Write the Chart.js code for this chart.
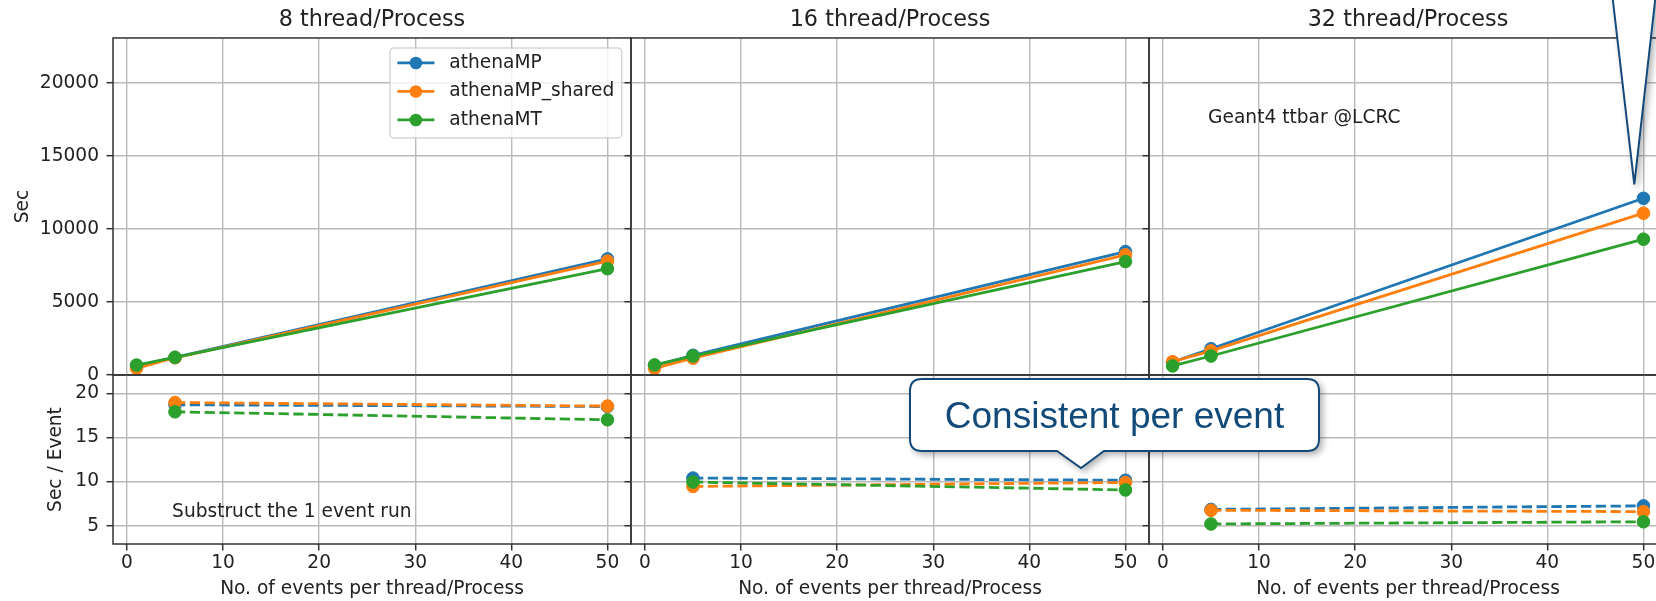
<!DOCTYPE html>
<html>
<head>
<meta charset="utf-8">
<script src="https://cdn.jsdelivr.net/npm/chart.js@4.4.1/dist/chart.umd.min.js"></script>
<style>
  body { margin: 0; background: #fff; }
  #wrap { position: relative; width: 1656px; height: 601px; overflow: hidden; background: #fff; }
  #wrap canvas { position: absolute; }
  #callouts { position: absolute; left: 0; top: 0; z-index: 5; }
</style>
</head>
<body>
<div id="wrap">
  <svg id="callouts" width="1656" height="601">
    <defs>
      <filter id="shadow" x="-10%" y="-20%" width="130%" height="160%">
        <feDropShadow dx="3" dy="3" stdDeviation="3" flood-color="#000" flood-opacity="0.3"/>
      </filter>
    </defs>
    <path d="M922,379 H1307 Q1319,379 1319,391 V439 Q1319,451 1307,451 H1104 L1081,468 L1057,451 H922 Q910,451 910,439 V391 Q910,379 922,379 Z"
          fill="#fff" stroke="#124a79" stroke-width="2" filter="url(#shadow)"/>
    <text x="1114.5" y="428" text-anchor="middle" font-family="'Liberation Sans', Arial, sans-serif" font-size="37" fill="#124a79">Consistent per event</text>
    <path d="M1612.5,-3 L1634.3,184.3 L1655.5,-3" fill="#fff" stroke="#124a79" stroke-width="2" filter="url(#shadow)"/>
  </svg>
</div>
<script>
"use strict"

// x values: number of events per thread/process
const eventCounts = [1, 5, 50]
const perEventCounts = [5, 50]        // the 1 event run is subtracted
const xTicks = [0, 10, 20, 30, 40, 50]
const secTicks = [0, 5000, 10000, 15000, 20000]
const perEventTicks = [5, 10, 15, 20]

const panelTitles = ['8 thread/Process', '16 thread/Process', '32 thread/Process']
const seriesNames = ['athenaMP', 'athenaMP_shared', 'athenaMT']

// total wall time [Sec]
const mp8 = [620, 1200, 7950]
const shared8 = [460, 1180, 7800]
const mt8 = [680, 1210, 7280]
const mp16 = [650, 1350, 8450]
const shared16 = [460, 1150, 8230]
const mt16 = [690, 1300, 7770]
const mp32 = [880, 1800, 12100]
const shared32 = [910, 1650, 11080]
const mt32 = [620, 1300, 9300]

// Sec / Event
const mpEv8 = [18.7, 18.5]
const sharedEv8 = [18.95, 18.55]
const mtEv8 = [17.9, 17.0]
const mpEv16 = [10.4, 10.15]
const sharedEv16 = [9.45, 9.9]
const mtEv16 = [9.95, 9.05]
const mpEv32 = [6.85, 7.25]
const sharedEv32 = [6.75, 6.6]
const mtEv32 = [5.2, 5.45]

const secData = [[mp8, shared8, mt8], [mp16, shared16, mt16], [mp32, shared32, mt32]]
const perEventData = [[mpEv8, sharedEv8, mtEv8], [mpEv16, sharedEv16, mtEv16], [mpEv32, sharedEv32, mtEv32]]

const colors = ['#1f77b4', '#ff7f0e', '#2ca02c']
const FAMILY = "'DejaVu Sans', sans-serif"
const TXT = '#222'
const GRID = '#bababa'
const MARKER_R = 6.3

// page geometry (px)
const PLOT_W = 518
const MID_Y = 375
const BOT_Y = 544
const PAGE_H = 601
const plotLeft = [113, 631, 1149]

// box round each axes, like matplotlib spines
const framePlugin = {
    id: 'frame',
    afterDatasetsDraw(chart){
        const {ctx, chartArea: a} = chart
        ctx.save()
        ctx.strokeStyle = '#333'
        ctx.lineWidth = 1.5
        ctx.strokeRect(a.left, a.top, a.right - a.left, a.bottom - a.top)
        ctx.restore()
    }
}

// free text placed in data coordinates
const notesPlugin = {
    id: 'notes',
    afterDatasetsDraw(chart, args, opts){
        const {ctx} = chart
        ;(opts.items || []).forEach(n => {
            ctx.save()
            ctx.font = '18.6px ' + FAMILY
            ctx.fillStyle = TXT
            ctx.textBaseline = 'alphabetic'
            ctx.fillText(n.text, chart.scales.x.getPixelForValue(n.x), chart.scales.y.getPixelForValue(n.y))
            ctx.restore()
        })
    }
}

// matplotlib style legend, upper right
const legendPlugin = {
    id: 'mplLegend',
    afterDraw(chart, args, opts){
        if (!opts.show) return
        const {ctx, chartArea: a} = chart
        ctx.save()
        ctx.font = '18.6px ' + FAMILY
        const sets = chart.data.datasets
        const textW = Math.max(...sets.map(d => ctx.measureText(d.label).width))
        const pad = 7.4, handle = 37, gap = 14.9, rowH = 28.5
        const w = pad + handle + gap + textW + pad
        const h = 90
        const x0 = a.right - 9.3 - w, y0 = a.top + 10, r = 4
        ctx.beginPath()
        ctx.moveTo(x0 + r, y0)
        ctx.arcTo(x0 + w, y0, x0 + w, y0 + h, r)
        ctx.arcTo(x0 + w, y0 + h, x0, y0 + h, r)
        ctx.arcTo(x0, y0 + h, x0, y0, r)
        ctx.arcTo(x0, y0, x0 + w, y0, r)
        ctx.closePath()
        ctx.fillStyle = 'rgba(255,255,255,0.8)'
        ctx.fill()
        ctx.strokeStyle = 'rgba(204,204,204,0.8)'
        ctx.lineWidth = 1.5
        ctx.stroke()
        sets.forEach((d, i) => {
            const cy = y0 + 15 + i * rowH
            ctx.strokeStyle = d.borderColor
            ctx.lineWidth = 2.8
            ctx.beginPath()
            ctx.moveTo(x0 + pad, cy)
            ctx.lineTo(x0 + pad + handle, cy)
            ctx.stroke()
            ctx.fillStyle = d.borderColor
            ctx.beginPath()
            ctx.arc(x0 + pad + handle / 2, cy, MARKER_R, 0, Math.PI * 2)
            ctx.fill()
            ctx.fillStyle = TXT
            ctx.textBaseline = 'middle'
            ctx.fillText(d.label, x0 + pad + handle + gap, cy)
        })
        ctx.restore()
    }
}

const notes = {
    '0-bottom': [{x: 4.7, y: 6.0, text: 'Substruct the 1 event run'}],
    '2-top': [{x: 4.7, y: 17250, text: 'Geant4 ttbar @LCRC'}]
}

const wrap = document.getElementById('wrap')

function addCanvas(left, top, w, h){
    const c = document.createElement('canvas')
    c.width = w
    c.height = h
    c.style.left = left + 'px'
    c.style.top = top + 'px'
    c.style.width = w + 'px'
    c.style.height = h + 'px'
    wrap.insertBefore(c, document.getElementById('callouts'))
    return c
}

function makePanel(col, part){
    const isTop = part === 'top'
    const yW = col === 0 ? plotLeft[0] : 8
    const left = plotLeft[col] - yW
    const w = yW + PLOT_W + 2
    const top = isTop ? 0 : MID_Y - 5
    const h = isTop ? MID_Y + 12 : PAGE_H - top
    const xH = isTop ? 12 : PAGE_H - BOT_Y

    const xs = isTop ? eventCounts : perEventCounts
    const sets = isTop ? secData[col] : perEventData[col]
    const datasets = sets.map((vals, i) => ({
        label: seriesNames[i],
        data: vals.map((v, k) => ({x: xs[k], y: v})),
        borderColor: colors[i],
        backgroundColor: colors[i],
        borderWidth: 2.8,
        borderDash: isTop ? [] : [10.3, 4.5],
        pointRadius: MARKER_R,
        pointBorderWidth: 1,
        pointBackgroundColor: colors[i],
        pointBorderColor: colors[i],
        order: 2 - i,
        clip: false
    }))

    const font = {family: FAMILY, size: 18.6}
    const yTicks = isTop ? secTicks : perEventTicks
    const showY = col === 0

    new Chart(addCanvas(left, top, w, h), {
        type: 'line',
        data: {datasets: datasets},
        options: {
            responsive: false,
            animation: false,
            events: [],
            layout: {autoPadding: false, padding: {top: isTop ? 0 : 5, right: 2, bottom: 0, left: 0}},
            scales: {
                x: {
                    type: 'linear',
                    bounds: 'data',
                    min: -1.45,
                    max: 52.45,
                    afterBuildTicks: s => { s.ticks = xTicks.map(v => ({value: v})) },
                    afterFit: s => { s.height = xH; s.paddingLeft = 0; s.paddingRight = 0 },
                    ticks: {display: !isTop, font: font, color: TXT, padding: 2, maxRotation: 0, autoSkip: false, callback: v => String(v)},
                    grid: {color: GRID, lineWidth: 1.4, drawTicks: !isTop, tickLength: 6.5, tickColor: '#333', tickWidth: 1.5},
                    border: {display: false},
                    title: {display: !isTop, text: 'No. of events per thread/Process', font: font, color: TXT, padding: {top: 0, bottom: 0.8}}
                },
                y: {
                    type: 'linear',
                    bounds: 'data',
                    min: isTop ? 0 : 2.93,
                    max: isTop ? 23080 : 22.07,
                    afterBuildTicks: s => { s.ticks = yTicks.map(v => ({value: v})) },
                    afterFit: s => { s.width = yW; s.paddingTop = 0; s.paddingBottom = 0 },
                    ticks: {display: showY, font: font, color: TXT, padding: 7.5, autoSkip: false, callback: v => String(v)},
                    grid: {color: GRID, lineWidth: 1.4, drawTicks: true, tickLength: 6.5, tickColor: '#333', tickWidth: 1.5},
                    border: {display: false},
                    title: {display: showY, text: isTop ? 'Sec' : 'Sec / Event', font: font, color: TXT,
                        padding: {top: isTop ? 12.3 : 45.3, bottom: 0}}
                }
            },
            plugins: {
                legend: {display: false},
                tooltip: {enabled: false},
                title: {
                    display: isTop,
                    text: panelTitles[col],
                    fullSize: false,
                    color: TXT,
                    font: {family: FAMILY, size: 22.3, weight: 'normal'},
                    padding: {top: 6.6, bottom: 4.6}
                },
                notes: {items: notes[col + '-' + part] || []},
                mplLegend: {show: isTop && col === 0}
            }
        },
        plugins: [framePlugin, notesPlugin, legendPlugin]
    })
}

for (let c = 0; c < 3; c++) {
    makePanel(c, 'top')
    makePanel(c, 'bottom')
}
</script>
</body>
</html>
